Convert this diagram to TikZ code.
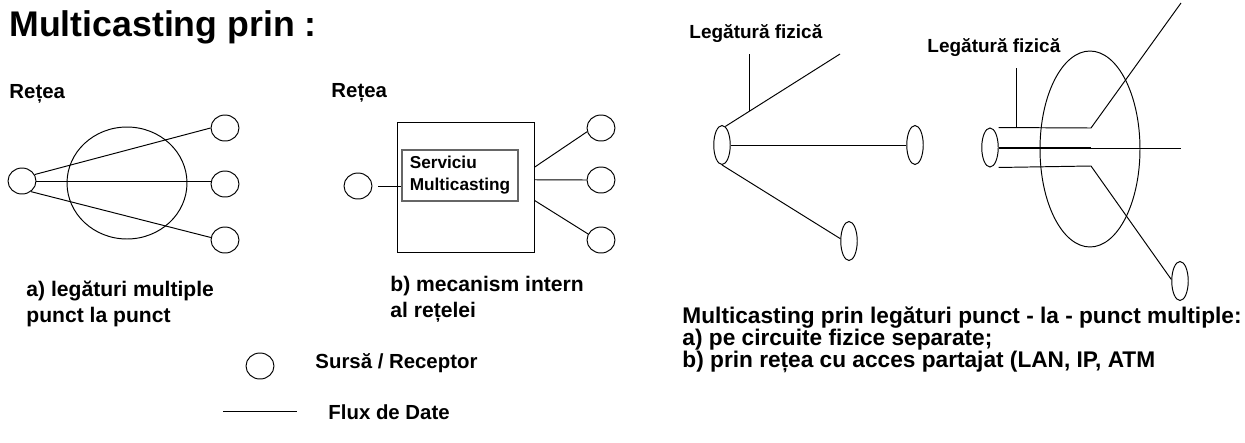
\documentclass[tikz,border=0pt]{standalone}
\usepackage{fontspec}
\setmainfont{Liberation Sans}
\usetikzlibrary{shapes.geometric, positioning, calc}

\tikzset{
  statie/.style={draw, ellipse, inner sep=0pt, minimum width=0.56cm, minimum height=0.52cm},
  capat/.style={draw, ellipse, inner sep=0pt, minimum width=0.33cm, minimum height=0.78cm},
  nor/.style={draw, ellipse, inner sep=0pt},
  scris/.style={anchor=base west, inner sep=0pt, align=left},
  mic/.style={scris, font=\bfseries\fontsize{10.8}{12}\selectfont},
  mediu/.style={scris, font=\bfseries\fontsize{11.6}{13}\selectfont},
  mare/.style={scris, font=\bfseries\fontsize{12}{14.4}\selectfont},
}

\begin{document}
\begin{tikzpicture}[x=0.02cm, y=-0.02cm, line width=0.55pt]
\useasboundingbox (0,0) rectangle (1245,443);
\node[scris, font=\bfseries\fontsize{20.3}{24}\selectfont] (titlu) at (9,36) {Multicasting prin :};
%
% a) legaturi multiple punct la punct
\node[mediu] (retA) at (9,98) {Rețea};
\node[nor, minimum width=2.4cm, minimum height=2.24cm] (nor1) at (127,183) {};
\node[statie] (s1) at (22,181) {};
\node[statie] (r1) at (225,128) {};
\node[statie] (r2) at (225,184) {};
\node[statie] (r3) at (225,240) {};
\draw (s1.27) -- (r1.west);
\draw (s1.east) -- (s1.east -| r2.west);
\draw (s1.-50) -- (r3.170);
\node[mare] (capA) at (26,322) {a) legături multiple\\punct la punct};
%
% b) mecanism intern al retelei
\node[mediu] (retB) at (331,97) {Rețea};
\node[draw, minimum width=2.74cm, minimum height=2.6cm] (cutie) at (465.5,187) {};
\node[draw=black!60, line width=0.75pt, minimum width=2.32cm, minimum height=1.02cm,
      inner sep=0pt, align=left, font=\bfseries\fontsize{9.8}{12.5}\selectfont] (serv) at (460,175.5)
      {Serviciu\\Multicasting};
\node[statie] (s2) at (358,186) {};
\node[statie] (r4) at (601,128) {};
\node[statie] (r5) at (601,180) {};
\node[statie] (r6) at (601,240) {};
\draw[shorten <=0.12cm] (s2.east) -- (serv.west |- s2.east);
\draw (cutie.16) -- (r4.195);
\draw (cutie.6) -- (r5.west);
\draw (cutie.-11) -- (r6.155);
\node[mare] (capB) at (390,317) {b) mecanism intern\\al rețelei};
%
% legenda
\node[statie] (leg) at (260,366) {};
\node[mediu] (legS) at (315,368) {Sursă / Receptor};
\draw (223,411) -- (297,411);
\node[mediu] (legF) at (328,419) {Flux de Date};
%
% circuite fizice separate
\node[mic] (fiz1) at (689,38) {Legătură fizică};
\node[capat] (fa) at (722,145) {};
\node[capat] (fb) at (915,145) {};
\node[capat] (fc) at (849,241) {};
\coordinate (sus1) at (840,54);
\draw (fa.80) -- (sus1);
\draw (fa.east) -- (fb.west);
\draw (fa.south) -- (fc.165);
\draw ($(fa.80)!0.21!(sus1)$) -- ++(0,-57);
%
% retea cu acces partajat
\node[mic] (fiz2) at (927,52) {Legătură fizică};
\node[nor, minimum width=2cm, minimum height=3.92cm] (nor2) at (1090,149) {};
\node[capat] (fd) at (990,147.5) {};
\node[capat] (fe) at (1180,281) {};
\coordinate (k1) at (1091,128);
\coordinate (k2) at (1091,148);
\coordinate (k3) at (1091,166);
\coordinate (e1) at (1181,3);
\coordinate (e2) at (1181,148);
\draw (fd.north -| fd.east) -- (k1) -- (e1);
\draw[line width=1.2pt] (fd.east |- k2) -- (k2);
\draw (k2) -- (e2);
\draw (fd.south -| fd.east) -- (k3) -- (fe.170);
\draw ($(fd.north -| fd.east)!0.19!(k1)$) -- ++(0,-60);
%
\node[scris, font=\bfseries\fontsize{12.9}{12.5}\selectfont] (conc) at (682,367)
  {Multicasting prin legături punct - la - punct multiple:\\a) pe circuite fizice separate;\\b) prin rețea cu acces partajat (LAN, IP, ATM};
\end{tikzpicture}
\end{document}
